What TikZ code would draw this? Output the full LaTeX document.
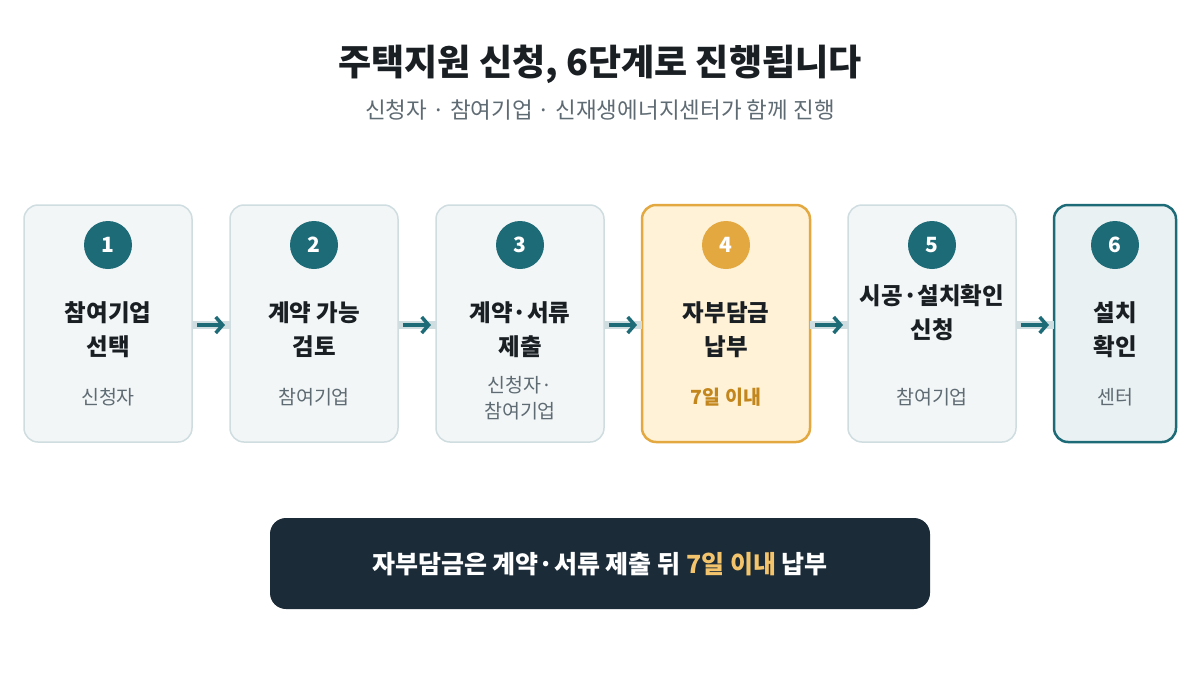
\documentclass[tikz,border=0pt]{standalone}
\usepackage{fontspec}
\setmainfont{Noto Sans CJK KR}
\usetikzlibrary{arrows.meta}
\definecolor{teal}{HTML}{1E6B78}
\definecolor{boxfill}{HTML}{F2F6F7}
\definecolor{boxline}{HTML}{CFDDE0}
\definecolor{dark}{HTML}{1B2B38}
\definecolor{ink}{HTML}{1A1F24}
\definecolor{gray}{HTML}{5F6B73}
\definecolor{orangef}{HTML}{FFF2D6}
\definecolor{oranged}{HTML}{E3A83F}
\definecolor{orangetx}{HTML}{C2861C}
\definecolor{gold}{HTML}{F3C46B}
\definecolor{lastfill}{HTML}{EAF1F3}
\begin{document}
\begin{tikzpicture}[x=1pt,y=-1pt,
  box/.style={draw=boxline,fill=boxfill,line width=1.5pt,rounded corners=14pt},
  num/.style={circle,fill=teal,minimum size=48pt,inner sep=0,text=white,font=\fontsize{21}{21}\selectfont\bfseries},
  ttl/.style={text=ink,font=\fontsize{23.5}{34}\selectfont\bfseries,align=center},
  sub/.style={text=gray,font=\fontsize{19.5}{26}\selectfont,align=center},
  bar/.style={draw=boxline,line width=8pt},
  arr/.style={draw=teal,line width=3.5pt,-{Straight Barb[length=7pt,width=16pt]}}]
\path[use as bounding box,fill=white] (0,0) rectangle (1200,675);
\node[text=ink,font=\fontsize{36}{36}\selectfont\bfseries] (title) at (600,64) {주택지원 신청, 6단계로 진행됩니다};
\node[text=gray,font=\fontsize{22.5}{22.5}\selectfont] (stitle) at (600,110) {신청자 · 참여기업 · 신재생에너지센터가 함께 진행};
% boxes
\draw[box] (24,205) rectangle (192,442);
\draw[box] (230,205) rectangle (398,442);
\draw[box] (436,205) rectangle (604,442);
\draw[box,draw=oranged,fill=orangef,line width=2.5pt] (642,205) rectangle (810,442);
\draw[box] (848,205) rectangle (1016,442);
\draw[box,draw=teal,fill=lastfill,line width=2.5pt] (1054,205) rectangle (1176,442);
% numbers
\node[num] (n1) at (108,245) {1};
\node[num] (n2) at (314,245) {2};
\node[num] (n3) at (520,245) {3};
\node[num,fill=oranged] (n4) at (726,245) {4};
\node[num] (n5) at (932,245) {5};
\node[num] (n6) at (1115,245) {6};
% titles
\node[ttl] (t1) at (108,330) {참여기업\\선택};
\node[ttl] (t2) at (314,330) {계약 가능\\검토};
\node[ttl] (t3) at (520,330) {계약·서류\\제출};
\node[ttl] (t4) at (726,330) {자부담금\\납부};
\node[ttl] (t5) at (932,313) {시공·설치확인\\신청};
\node[ttl] (t6) at (1115,330) {설치\\확인};
\node[sub] (s1) at (108,397) {신청자};
\node[sub] (s2) at (314,397) {참여기업};
\node[sub] (s3) at (520,398) {신청자·\\참여기업};
\node[sub,text=orangetx,font=\fontsize{19.5}{26}\selectfont\bfseries] (s4) at (726,397) {7일 이내};
\node[sub] (s5) at (932,397) {참여기업};
\node[sub] (s6) at (1115,397) {센터};
% arrows
\foreach \a/\b in {192/230,398/436,604/642,810/848,1016/1054}{
  \coordinate (p) at (\a,325); \coordinate (q) at (\b,325);
  \draw[bar] (p) -- (q);
  \coordinate (p2) at (\a+5,325); \coordinate (q2) at (\b-5,325);
  \draw[arr] (p2) -- (q2);
}
% bottom
\draw[fill=dark,draw=none,rounded corners=16pt] (270,518) rectangle (930,609);
\node[text=white,font=\fontsize{25}{25}\selectfont\bfseries] (note) at (600,564) {자부담금은 계약·서류 제출 뒤 \textcolor{gold}{7일 이내} 납부};
\end{tikzpicture}
\end{document}
